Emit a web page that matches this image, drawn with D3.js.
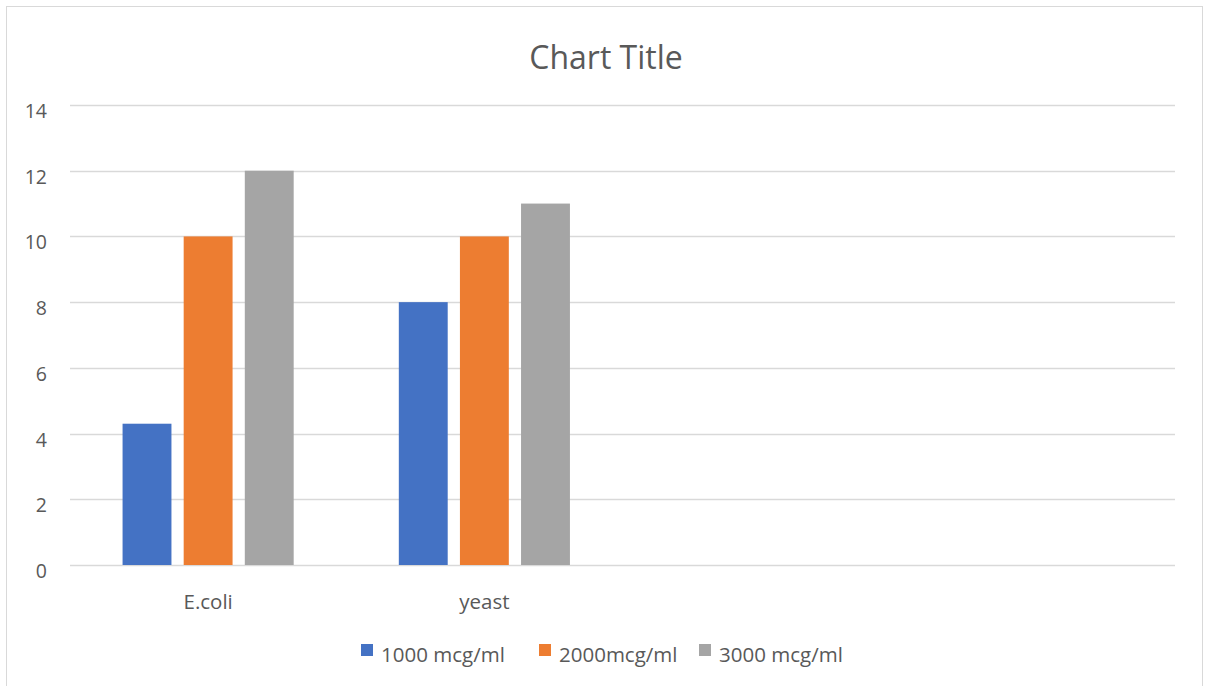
<!DOCTYPE html>
<html>
<head>
<meta charset="utf-8">
<script src="https://cdn.jsdelivr.net/npm/d3@7"></script>
<style>
  body { margin: 0; background: #fff; }
  svg { display: block; font-family: "Open Sans", "Noto Sans", sans-serif; }
</style>
</head>
<body>
<div id="chart"></div>
<script>
// data (4 category slots, last two empty)
const categories = ["E.coli", "yeast", "", ""];
const series = ["1000 mcg/ml", "2000mcg/ml", "3000 mcg/ml"];
const values1000 = [4.3, 8, null, null];
const values2000 = [10, 10, null, null];
const values3000 = [12, 11, null, null];
const yTicks = [0, 2, 4, 6, 8, 10, 12, 14];
const colors = ["#4472c4", "#ed7d31", "#a5a5a5"];

const W = 1205, H = 686, M = {t: 105, r: 30, b: 121, l: 70};
const svg = d3.select("#chart").append("svg")
  .attr("width", W)
  .attr("height", H);

// chart frame
svg.append("rect")
  .attr("x", 6.5).attr("y", 6.5)
  .attr("width", 1196).attr("height", 700)
  .attr("fill", "#fff")
  .attr("stroke", "#d9d9d9");

const x = d3.scaleBand()
  .domain(d3.range(categories.length))
  .range([M.l, W - M.r]);

const y = d3.scaleLinear()
  .domain([0, 14])
  .range([H - M.b, M.t]);

const x1 = d3.scaleBand()
  .domain(d3.range(series.length))
  .range([0, x.bandwidth()])
  .paddingInner(0.2)
  .paddingOuter(0.86);

// gridlines
svg.append("g")
  .selectAll("line")
  .data(yTicks)
  .join("line")
  .attr("x1", M.l).attr("x2", W - M.r)
  .attr("y1", d => Math.round(y(d)) + 0.5)
  .attr("y2", d => Math.round(y(d)) + 0.5)
  .attr("stroke", "#d9d9d9")
  .attr("stroke-width", 1.5);

// y labels
svg.append("g")
  .selectAll("text")
  .data(yTicks)
  .join("text")
  .attr("x", 47)
  .attr("y", d => y(d) + 13)
  .attr("text-anchor", "end")
  .attr("font-size", 19.5)
  .attr("fill", "#595959")
  .text(d => d);

// bars
const allValues = [values1000, values2000, values3000];
const rows = [];
categories.forEach((c, i) => {
  allValues.forEach((vals, s) => {
    if (vals[i] != null) rows.push({cat: i, s: s, v: vals[i]});
  });
});

svg.append("g")
  .selectAll("rect")
  .data(rows)
  .join("rect")
  .attr("x", d => x(d.cat) + x1(d.s))
  .attr("y", d => y(d.v))
  .attr("width", x1.bandwidth())
  .attr("height", d => y(0) - y(d.v))
  .attr("fill", d => colors[d.s]);

// category labels
svg.append("g")
  .selectAll("text")
  .data(categories)
  .join("text")
  .attr("x", (d, i) => x(i) + x.bandwidth() / 2)
  .attr("y", 609)
  .attr("text-anchor", "middle")
  .attr("font-size", 20.5)
  .attr("fill", "#595959")
  .text(d => d);

// title
svg.append("text")
  .attr("x", 606)
  .attr("y", 69)
  .attr("text-anchor", "middle")
  .attr("font-size", 32)
  .attr("fill", "#595959")
  .text("Chart Title");

// legend
const legendX = [361, 539, 699];
const lg = svg.append("g")
  .selectAll("g")
  .data(series)
  .join("g")
  .attr("transform", (d, i) => `translate(${legendX[i]},644)`);

lg.append("rect")
  .attr("width", 12).attr("height", 12)
  .attr("fill", (d, i) => colors[i]);

lg.append("text")
  .attr("x", 20)
  .attr("y", 18)
  .attr("font-size", 20.5)
  .attr("fill", "#595959")
  .text(d => d);
</script>
</body>
</html>
